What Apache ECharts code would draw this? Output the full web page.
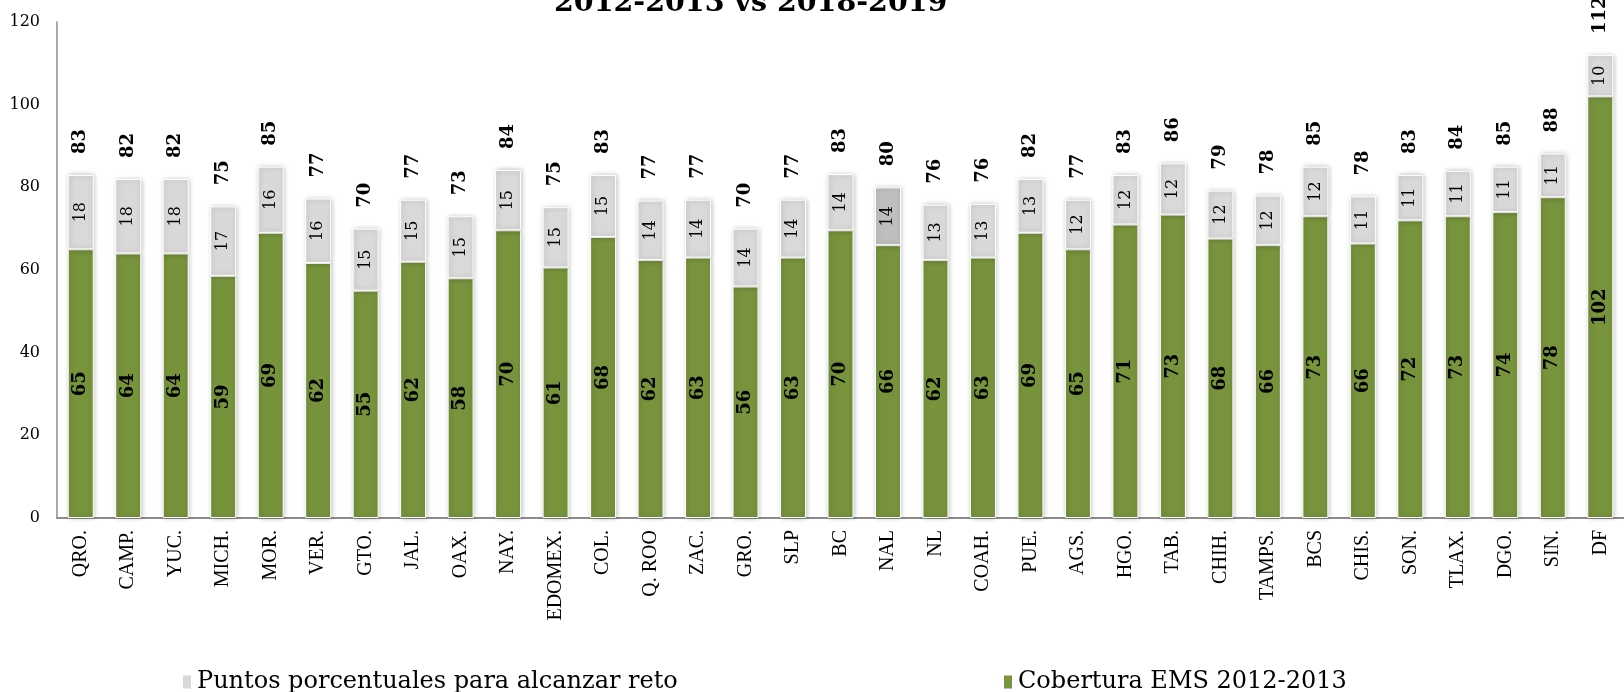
<!DOCTYPE html>
<html>
<head>
<meta charset="utf-8">
<script src="https://cdn.jsdelivr.net/npm/echarts@6/dist/echarts.min.js"></script>
<style>
  html, body { margin: 0; padding: 0; background: #fff; }
  #chart { width: 1624px; height: 692px; }
</style>
</head>
<body>
<div id="chart"></div>
<script>
// entidades
var estados = ['QRO.', 'CAMP.', 'YUC.', 'MICH.', 'MOR.', 'VER.', 'GTO.', 'JAL.', 'OAX.', 'NAY.',
  'EDOMEX.', 'COL.', 'Q. ROO', 'ZAC.', 'GRO.', 'SLP', 'BC', 'NAL', 'NL', 'COAH.',
  'PUE.', 'AGS.', 'HGO.', 'TAB.', 'CHIH.', 'TAMPS.', 'BCS', 'CHIS.', 'SON.', 'TLAX.',
  'DGO.', 'SIN.', 'DF']
// cobertura EMS 2012-2013 (verde)
var cobertura = [65, 64, 64, 58.6, 69, 61.7, 55, 62, 58, 69.6,
  60.6, 68, 62.4, 63, 56, 63, 69.6, 66, 62.4, 63,
  69, 65, 71, 73.4, 67.6, 66, 73, 66.4, 72, 73,
  74, 77.6, 102]
// puntos porcentuales para alcanzar reto (gris)
var puntos = [18, 18, 18, 16.8, 16, 15.6, 15, 15, 15, 14.6,
  14.6, 15, 14.4, 14, 14, 14, 13.6, 14, 13.4, 13,
  13, 12, 12, 12.4, 11.6, 12, 12, 11.4, 11, 11,
  11, 10.6, 10]
var yTicks = [0, 20, 40, 60, 80, 100, 120]

var serif = 'DejaVu Serif'
var verde = '#77933c'
var gris = '#d9d9d9'

var totales = cobertura.map(function (v, i) { return v + puntos[i] })

var myChart = echarts.init(document.getElementById('chart'))
myChart.setOption({
  animation: false,
  title: {
    text: '2012-2013 vs 2018-2019',
    left: 549,
    top: -16,
    textStyle: { fontFamily: serif, fontWeight: 'bold', fontSize: 28.5, color: '#000' }
  },
  legend: [
    {
      data: ['Puntos porcentuales para alcanzar reto'],
      left: 176,
      top: 665,
      icon: 'rect',
      itemWidth: 10,
      itemHeight: 15,
      itemGap: 4,
      textStyle: { fontFamily: serif, fontSize: 24, color: '#000' }
    },
    {
      data: ['Cobertura EMS 2012-2013'],
      left: 997,
      top: 665,
      icon: 'rect',
      itemWidth: 10,
      itemHeight: 15,
      textStyle: { fontFamily: serif, fontSize: 24, color: '#000' }
    }
  ],
  grid: {
    left: 57,
    top: 22,
    bottom: 174,
    width: 1581
  },
  xAxis: {
    type: 'category',
    data: estados,
    axisTick: { show: false },
    axisLine: { lineStyle: { color: '#8c8c8c', width: 2 } },
    axisLabel: {
      interval: 0,
      rotate: 90,
      margin: 12,
      fontFamily: 'Liberation Serif',
      fontSize: 20,
      color: '#000'
    }
  },
  yAxis: {
    type: 'value',
    min: yTicks[0],
    max: yTicks[yTicks.length - 1],
    interval: 20,
    splitLine: { show: false },
    axisTick: { show: false },
    axisLine: { show: true, lineStyle: { color: '#8c8c8c', width: 1.5 } },
    axisLabel: { margin: 17, fontFamily: serif, fontSize: 16, color: '#000' }
  },
  series: [
    {
      name: 'Cobertura EMS 2012-2013',
      type: 'bar',
      stack: 'total',
      barWidth: 26,
      data: cobertura,
      itemStyle: {
        color: verde,
        borderColor: '#fff',
        borderWidth: 1,
        shadowColor: 'rgba(0,0,0,0.25)',
        shadowBlur: 5,
        shadowOffsetX: 1
      },
      label: {
        show: true,
        position: 'inside',
        rotate: 90,
        fontFamily: serif,
        fontWeight: 'bold',
        fontSize: 18,
        color: '#000',
        formatter: function (p) { return Math.round(p.value) }
      }
    },
    {
      name: 'Puntos porcentuales para alcanzar reto',
      type: 'bar',
      stack: 'total',
      barWidth: 26,
      data: puntos.map(function (v, i) {
        // NAL con gris más oscuro
        if (estados[i] === 'NAL') return { value: v, itemStyle: { color: '#bfbfbf' } }
        return v
      }),
      itemStyle: {
        color: gris,
        borderColor: '#fff',
        borderWidth: 1,
        shadowColor: 'rgba(0,0,0,0.25)',
        shadowBlur: 5,
        shadowOffsetX: 1
      },
      label: {
        show: true,
        position: 'inside',
        rotate: 90,
        fontFamily: serif,
        fontSize: 16,
        color: '#000',
        formatter: function (p) { return Math.round(p.value) }
      }
    },
    {
      name: 'total',
      type: 'bar',
      stack: 'total',
      barWidth: 26,
      data: totales.map(function () { return 0 }),
      itemStyle: { color: 'transparent' },
      label: {
        show: true,
        position: 'top',
        distance: 21,
        rotate: 90,
        align: 'left',
        verticalAlign: 'middle',
        fontFamily: serif,
        fontWeight: 'bold',
        fontSize: 18,
        color: '#000',
        formatter: function (p) { return Math.round(totales[p.dataIndex]) }
      }
    }
  ]
})
</script>
</body>
</html>
